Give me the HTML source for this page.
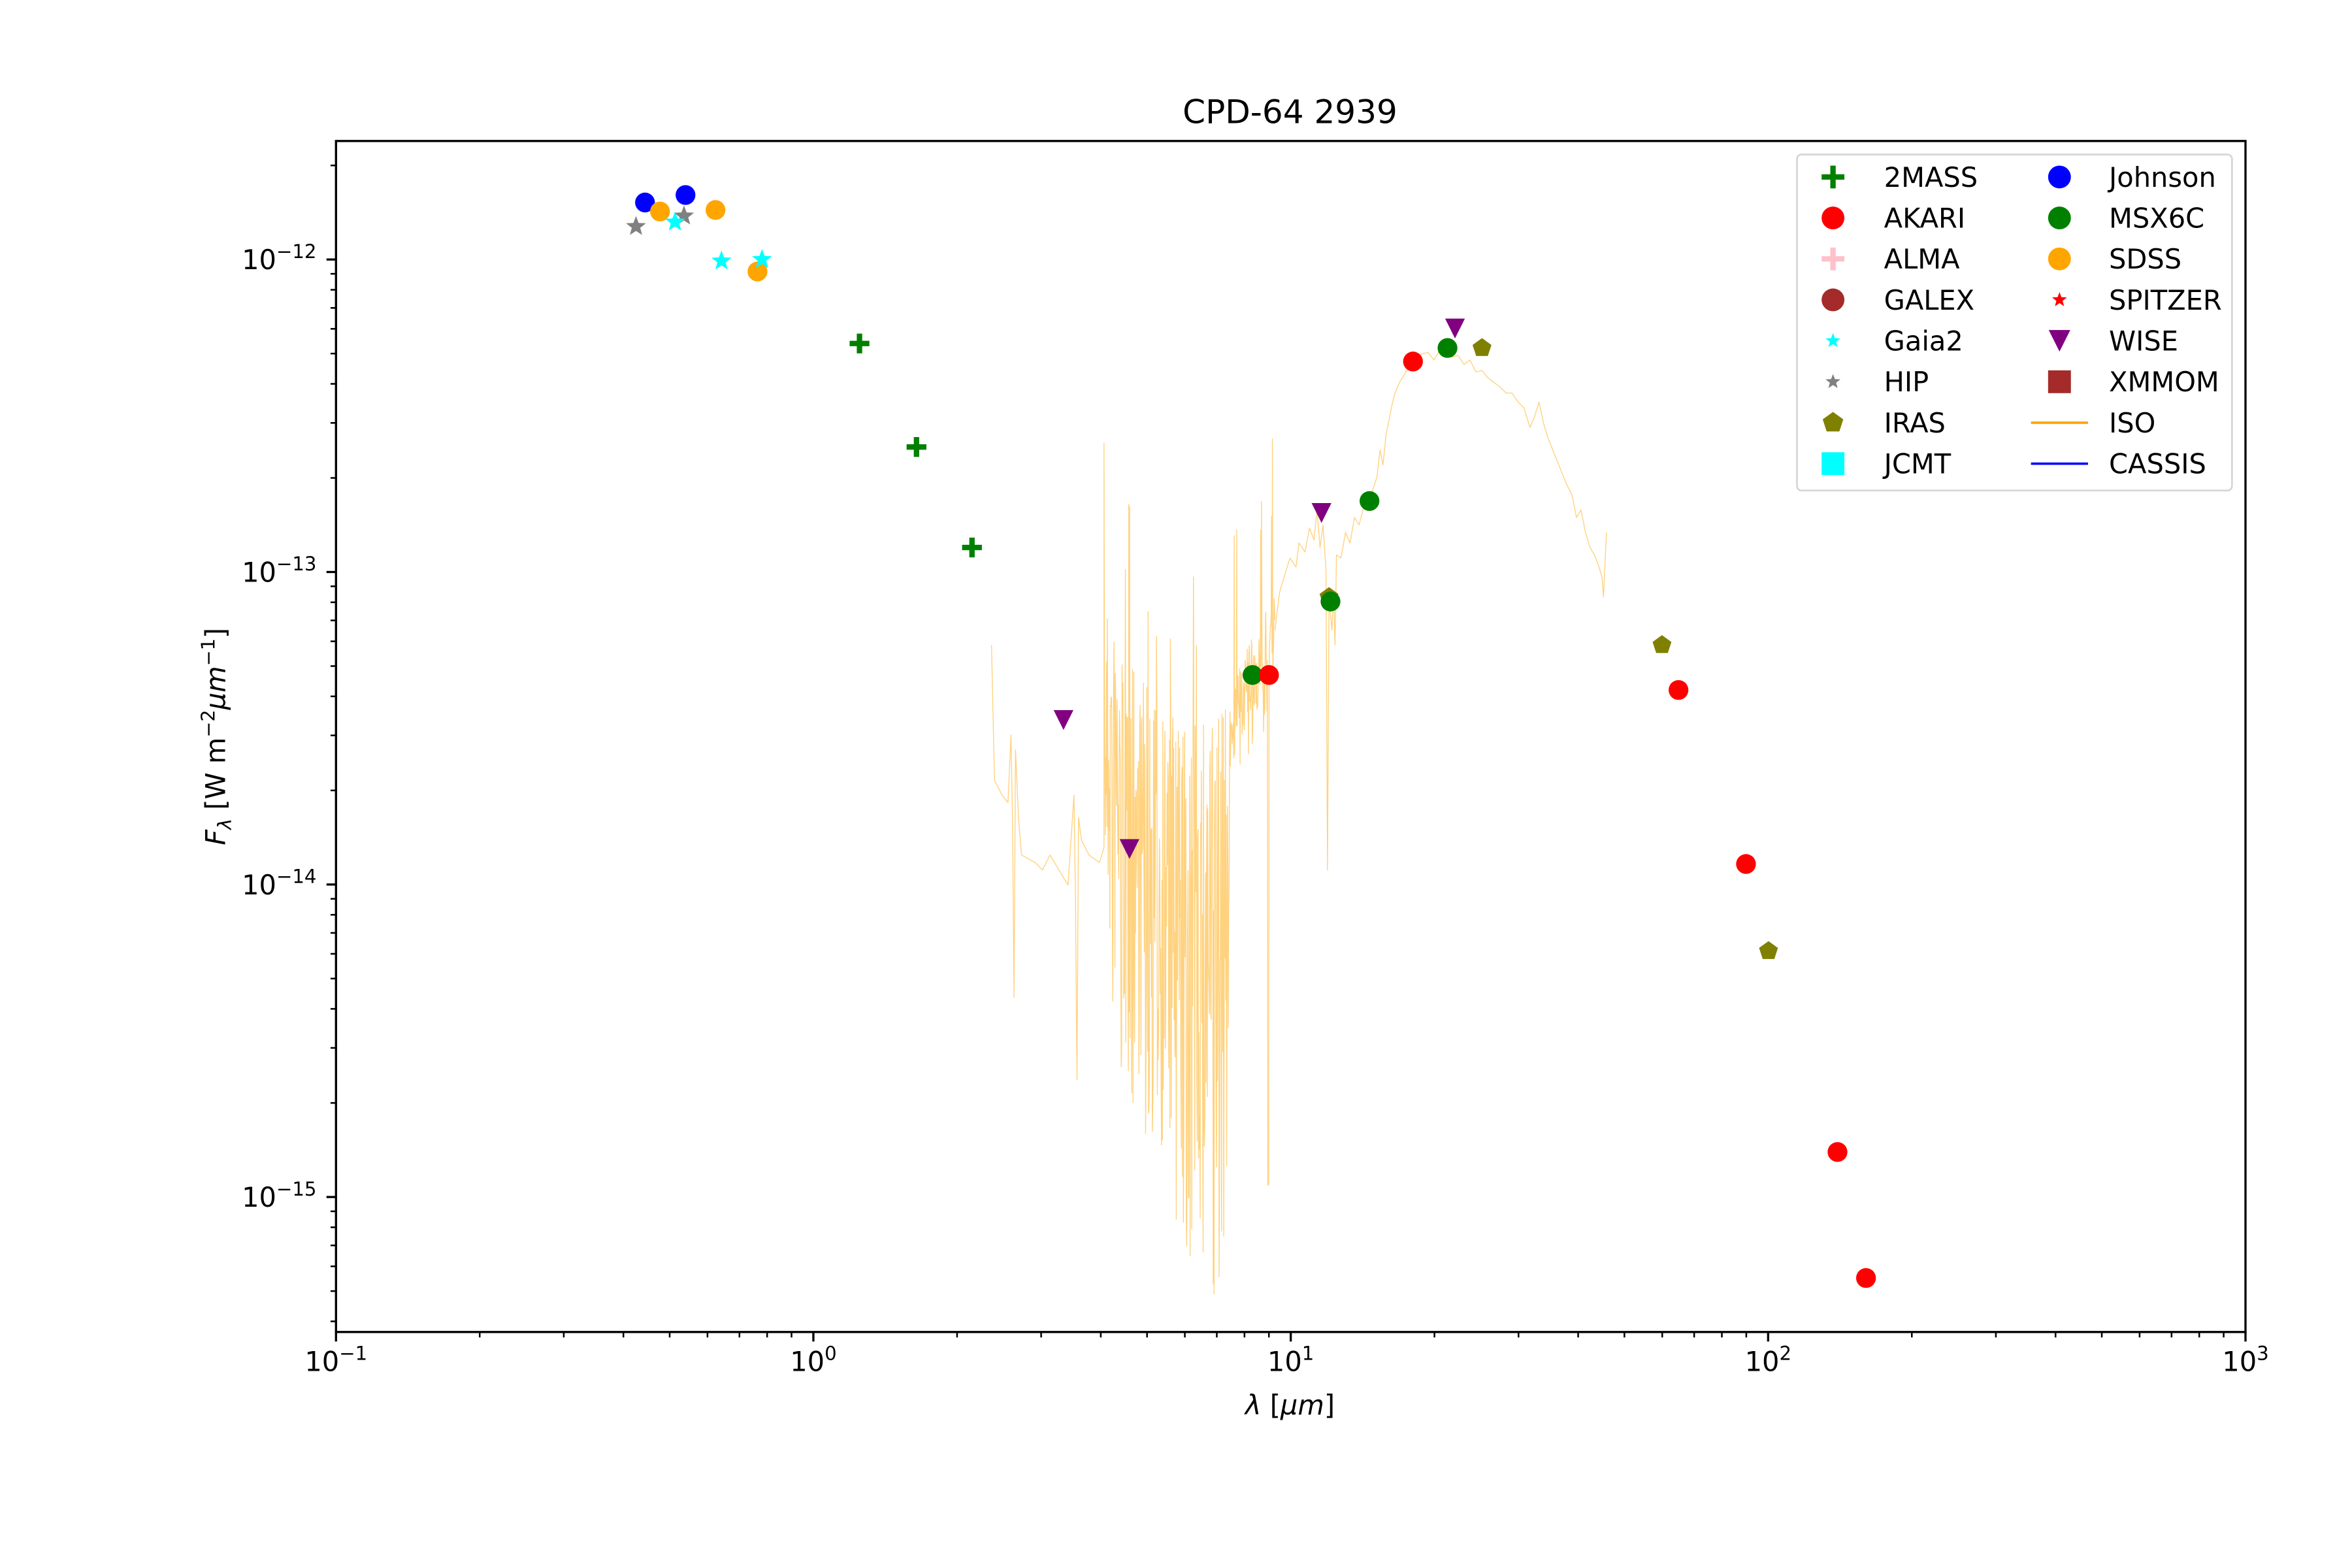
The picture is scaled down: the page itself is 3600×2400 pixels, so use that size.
<!DOCTYPE html>
<html><head><meta charset="utf-8"><style>
html,body{margin:0;padding:0;background:#fff}
svg{display:block}
text{font-family:"DejaVu Sans","Liberation Sans",sans-serif;fill:#000}
</style></head><body>
<svg id="s" width="3600" height="2400" viewBox="0 0 1568 1045.33" xmlns="http://www.w3.org/2000/svg">
<rect width="1568" height="1046" fill="#fff"/>
<g id="iso" fill="none" stroke="#FFA500" stroke-opacity="0.5" stroke-width="0.6" stroke-linejoin="round"></g>
<g id="pts"></g>
<rect x="224" y="94" width="1273" height="794" fill="none" stroke="#000" stroke-width="1.45"/>
<g id="ticks" stroke="#000"></g>
<g id="labels"></g>
<text x="860" y="82" font-size="21.8" text-anchor="middle">CPD-64 2939</text>
<text x="860" y="943" font-size="18.1" text-anchor="middle"><tspan font-style="italic">λ</tspan> [<tspan font-style="italic">μm</tspan>]</text>
<text transform="translate(150,491) rotate(-90)" font-size="18.1" text-anchor="middle"><tspan font-style="italic">F</tspan><tspan font-size="12.5" baseline-shift="-4" font-style="italic">λ</tspan> [W m<tspan font-size="12.5" baseline-shift="7">−2</tspan><tspan font-style="italic">μm</tspan><tspan font-size="12.5" baseline-shift="7">−1</tspan>]</text>
<g id="legend">
<rect x="1198" y="103" width="290" height="224" rx="3" fill="#fff" fill-opacity="0.8" stroke="#d6d6d6" stroke-width="1.2"/>
</g>
</svg>
<script>
(function(){
var NS="http://www.w3.org/2000/svg";
function el(tag,attrs,parent,txt){var e=document.createElementNS(NS,tag);for(var k in attrs)e.setAttribute(k,attrs[k]);if(txt!==undefined)e.textContent=txt;(parent||document.getElementById('s')).appendChild(e);return e;}
var X0=224,X1=1497,Y0=94,Y1=888;
function xl(l){return X0+(X1-X0)/4*(l+1);}
var ydec=(798-173)/3; function yl(l){return 173-ydec*(l+12);}
var T=document.getElementById('ticks'),L=document.getElementById('labels');
for(var d=-1;d<=3;d++){var x=xl(d);el('line',{x1:x,x2:x,y1:Y1,y2:Y1+6.35,'stroke-width':1.45},T);
 var t=el('text',{x:x,y:Y1+26,'font-size':18.1,'text-anchor':'middle'},L);t.innerHTML='10<tspan font-size="12.7" dy="-7.5">'+(d<0?'−'+(-d):d)+'</tspan>';
 if(d<3)for(var m=2;m<=9;m++){var xm=xl(d+Math.log10(m));el('line',{x1:xm,x2:xm,y1:Y1,y2:Y1+3.63,'stroke-width':1.1},T);}}
var ylo=-12-(Y1-173)/ydec, yhi=-12+(173-Y0)/ydec;
for(var d=-16;d<=-11;d++){
 if(d>=ylo&&d<=yhi){var y=yl(d);el('line',{x1:X0-6.35,x2:X0,y1:y,y2:y,'stroke-width':1.45},T);
  var t=el('text',{x:211,y:y+6.5,'font-size':18.1,'text-anchor':'end'},L);t.innerHTML='10<tspan font-size="12.7" dy="-7.5">−'+(-d)+'</tspan>';}
 for(var m=2;m<=9;m++){var lv=d+Math.log10(m);if(lv>ylo&&lv<yhi){var ym=yl(lv);el('line',{x1:X0-3.63,x2:X0,y1:ym,y2:ym,'stroke-width':1.1},T);}}}
var seed=7;function r(){seed=(seed*16807)%2147483647;return (seed-1)/2147483646;}
function interp(pts,x){for(var i=0;i<pts.length-1;i++){if(x>=pts[i][0]&&x<=pts[i+1][0]){var f=(x-pts[i][0])/(pts[i+1][0]-pts[i][0]);return pts[i][1]+f*(pts[i+1][1]-pts[i][1]);}}return pts[pts.length-1][1];}
var G=document.getElementById('iso');
var p1="M661,430 L663,520 L668,530 L672,535 L674,490 L675,545 L676,665 L677,500 L679,545 L681,570 L690,575 L695,580 L700,570 L712,590 L714,560 L716,530 L717,600 L718,720 L719,545 L721,560 L726,570 L733,575 L736,565";
el('path',{d:p1},G);
var topE=[[736,400],[745,430],[760,450],[775,470],[790,485],[805,480],[818,470],[830,435],[840,415],[850,395]];
var botE=[[736,620],[745,680],[760,720],[775,770],[790,810],[800,825],[815,845],[818,800],[820,500],[835,480],[850,450]];
var dd="M736,565";
for(var x=736;x<=850;x+=0.28){var t0=interp(topE,x),b0=interp(botE,x);var u=r();var y;
 if(u<0.04)y=t0-40-r()*70;else if(u<0.12)y=b0+r()*30;else{var v=r();y=t0+(b0-t0)*(x<818?Math.pow(v,1.3):v);}
 if(x>845&&x<846)y=790;
 dd+=" L"+x.toFixed(2)+","+y.toFixed(1);}
el('path',{d:dd},G);
var p3="M850,420 L853,395 L856,385 L860,372 L864,378 L866,362 L870,368 L873,352 L876,360 L878,340 L880,365 L882,350 L884,380 L885,580 L886,400 L888,420 L889,395 L890,430 L891,370 L894,372 L897,355 L900,362 L903,345 L906,350 L910,335 L914,330 L918,318 L920,300 L922,310 L924,290 L926,280 L928,270 L930,262 L933,255 L936,250 L940,243 L944,238 L948,236 L952,235 L956,240 L960,233 L964,236 L968,238 L972,237 L976,243 L980,240 L984,248 L988,247 L992,252 L996,255 L1000,258 L1004,262 L1008,262 L1012,268 L1016,272 L1020,285 L1023,278 L1026,268 L1029,282 L1032,292 L1036,302 L1040,312 L1044,322 L1048,330 L1051,345 L1054,340 L1057,355 L1060,365 L1063,370 L1066,378 L1068,385 L1069,398 L1070,375 L1071,355";
el('path',{d:p3},G);
var P=document.getElementById('pts');
var R=6.6;
function circ(x,y,c,par,rr){el('circle',{cx:x,cy:y,r:rr||R,fill:c},par||P);}
function plus(x,y,c,par,s){s=s||R;el('path',{d:'M'+(x-s)+','+y+' H'+(x+s)+' M'+x+','+(y-s)+' V'+(y+s),stroke:c,'stroke-width':3.6,fill:'none'},par||P);}
function star(x,y,c,s,par){var d='';for(var i=0;i<10;i++){var a=-Math.PI/2+i*Math.PI/5;var rr=i%2?s*0.42:s;d+=(i?'L':'M')+(x+rr*Math.cos(a)).toFixed(2)+','+(y+rr*Math.sin(a)).toFixed(2);}el('path',{d:d+'Z',fill:c},par||P);}
function tri(x,y,c,par,s){s=s||R;el('path',{d:'M'+(x-s)+','+(y-s)+' L'+(x+s)+','+(y-s)+' L'+x+','+(y+s)+'Z',fill:c},par||P);}
function pent(x,y,c,par,s){s=s||R;var d='';for(var i=0;i<5;i++){var a=-Math.PI/2+i*2*Math.PI/5;d+=(i?'L':'M')+(x+s*Math.cos(a)).toFixed(2)+','+(y+s*Math.sin(a)).toFixed(2);}el('path',{d:d+'Z',fill:c},par||P);}
function sq(x,y,c,par,s){s=s||R;el('rect',{x:x-s,y:y-s,width:2*s,height:2*s,fill:c},par||P);}
[[430,135],[457,130]].forEach(function(p){circ(p[0],p[1],'#0000ff');});
[[440,141],[477,140],[505,181]].forEach(function(p){circ(p[0],p[1],'#ffa500');});
[[424,151],[456,144]].forEach(function(p){star(p[0],p[1],'#808080',7);});
[[450,148],[481,174],[508,173]].forEach(function(p){star(p[0],p[1],'#00ffff',7);});
[[573,229],[611,298],[648,365]].forEach(function(p){plus(p[0],p[1],'#008000');});
[[709,480],[753,566],[881,342],[970,219]].forEach(function(p){tri(p[0],p[1],'#800080');});
[[886,398],[988,232],[1108,430],[1179,634]].forEach(function(p){pent(p[0],p[1],'#808000');});
[[835,450],[887,401],[913,334],[965,232]].forEach(function(p){circ(p[0],p[1],'#008000');});
[[846,450],[942,241],[1119,460],[1164,576],[1225,768],[1244,852]].forEach(function(p){circ(p[0],p[1],'#ff0000');});
var LG=document.getElementById('legend');
var rows=[118,145.3,172.6,199.9,227.2,254.5,281.8,309.1];
var LR=7.6;
var c1=[['2MASS',function(y){plus(1222,y,'#008000',LG,LR);}],['AKARI',function(y){circ(1222,y,'#ff0000',LG,LR);}],['ALMA',function(y){plus(1222,y,'#ffc0cb',LG,LR);}],['GALEX',function(y){circ(1222,y,'#a52a2a',LG,LR);}],['Gaia2',function(y){star(1222,y,'#00ffff',5.2,LG);}],['HIP',function(y){star(1222,y,'#808080',5.2,LG);}],['IRAS',function(y){pent(1222,y,'#808000',LG,7.2);}],['JCMT',function(y){sq(1222,y,'#00ffff',LG,LR);}]];
var c2=[['Johnson',function(y){circ(1373,y,'#0000ff',LG,LR);}],['MSX6C',function(y){circ(1373,y,'#008000',LG,LR);}],['SDSS',function(y){circ(1373,y,'#ffa500',LG,LR);}],['SPITZER',function(y){star(1373,y,'#ff0000',5.2,LG);}],['WISE',function(y){tri(1373,y,'#800080',LG,7.2);}],['XMMOM',function(y){sq(1373,y,'#a52a2a',LG,LR);}],['ISO',function(y){el('line',{x1:1354,x2:1392,y1:y,y2:y,stroke:'#ffa500','stroke-width':1.6},LG);}],['CASSIS',function(y){el('line',{x1:1354,x2:1392,y1:y,y2:y,stroke:'#0000ff','stroke-width':1.6},LG);}]];
for(var i=0;i<8;i++){c1[i][1](rows[i]);el('text',{x:1256,y:rows[i]+6.5,'font-size':18.1},LG,c1[i][0]);c2[i][1](rows[i]);el('text',{x:1406,y:rows[i]+6.5,'font-size':18.1},LG,c2[i][0]);}
})();
</script>
</body></html>
